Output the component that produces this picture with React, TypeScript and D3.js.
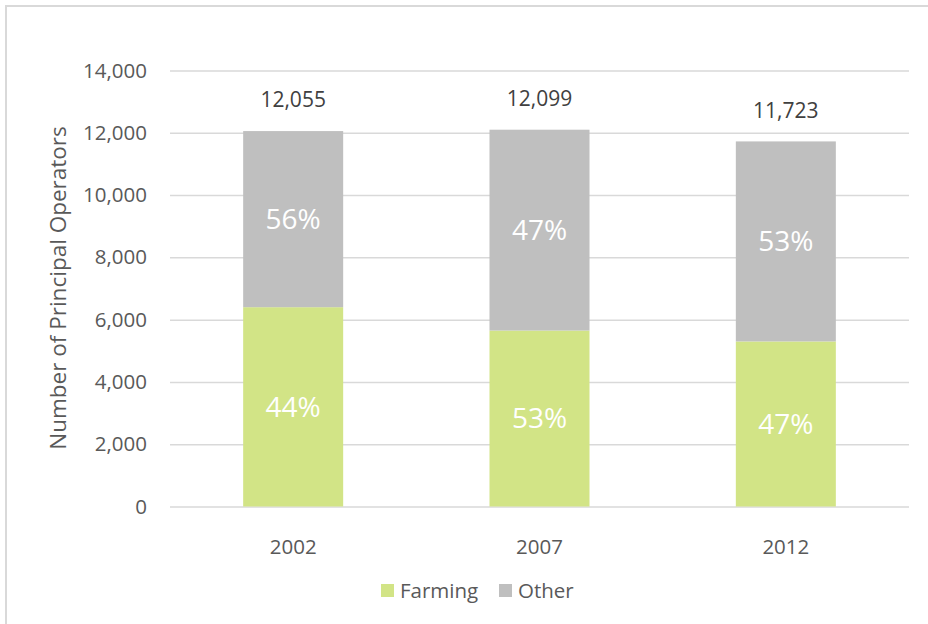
import * as d3 from "d3"
import React from "react"

const years = ["2002", "2007", "2012"]
const farming = [6400, 5650, 5300]
const totals = [12055, 12099, 11723]
const other = totals.map((t, i) => t - farming[i])
const farmingPct = ["44%", "53%", "47%"]
const otherPct = ["56%", "47%", "53%"]
const yTicks = [0, 2000, 4000, 6000, 8000, 10000, 12000, 14000]
const seriesNames = ["Farming", "Other"]
const seriesColors = ["#d2e486", "#bfbfbf"]

const width = 928
const height = 624
const font = "'Open Sans', sans-serif"

const App = () => {
  const ref = React.useRef<SVGSVGElement>(null)

  React.useEffect(() => {
    const svg = d3.select(ref.current)
    svg.selectAll("*").remove()

    // chart frame
    svg.append("rect")
      .attr("x", 6).attr("y", 6)
      .attr("width", width).attr("height", height)
      .attr("fill", "white")
      .attr("stroke", "#d9d9d9").attr("stroke-width", 2)

    const x = d3.scaleBand(years, [170, 909]).paddingInner(0.594).paddingOuter(0.297)
    const y = d3.scaleLinear([0, 14000], [506.5, 70.5])

    // gridlines + y labels
    const yAxis = d3.axisLeft(y).tickValues(yTicks).tickFormat(d3.format(","))
      .tickSize(0).tickPadding(23)
    svg.append("g")
      .attr("transform", "translate(170,0)")
      .call(yAxis)
      .call((g: any) => g.select(".domain").remove())
      .call((g: any) => g.selectAll(".tick line").clone()
        .attr("x2", 739)
        .attr("stroke", "#d9d9d9")
        .attr("stroke-width", 1.5))
      .call((g: any) => g.selectAll(".tick text")
        .attr("font-family", font).attr("font-size", 20.5).attr("fill", "#595959"))

    // stacked bars
    const stacked = [farming, other]
    stacked.forEach((vals, s) => {
      const base = s === 0 ? years.map(() => 0) : farming
      svg.append("g")
        .attr("fill", seriesColors[s])
        .selectAll("rect")
        .data(years)
        .join("rect")
        .attr("x", (d: string) => x(d)!)
        .attr("width", x.bandwidth())
        .attr("y", (d: string, i: number) => y(base[i] + vals[i]))
        .attr("height", (d: string, i: number) => y(base[i]) - y(base[i] + vals[i]))

      const pct = s === 0 ? farmingPct : otherPct
      svg.append("g")
        .selectAll("text")
        .data(years)
        .join("text")
        .attr("x", (d: string) => x(d)! + x.bandwidth() / 2)
        .attr("y", (d: string, i: number) => y(base[i] + vals[i] / 2))
        .attr("dy", "0.35em")
        .attr("text-anchor", "middle")
        .attr("font-family", font).attr("font-size", 28)
        .attr("fill", "white")
        .text((d: string, i: number) => pct[i])
    })

    // totals
    svg.append("g")
      .selectAll("text")
      .data(years)
      .join("text")
      .attr("x", (d: string) => x(d)! + x.bandwidth() / 2)
      .attr("y", (d: string, i: number) => y(totals[i]) - 31)
      .attr("dy", "0.35em")
      .attr("text-anchor", "middle")
      .attr("font-family", font).attr("font-size", 21)
      .attr("fill", "#404040")
      .text((d: string, i: number) => d3.format(",")(totals[i]))

    // x labels
    const xAxis = d3.axisBottom(x).tickSize(0).tickPadding(22)
    svg.append("g")
      .attr("transform", "translate(0,517)")
      .call(xAxis)
      .call((g: any) => g.select(".domain").remove())
      .call((g: any) => g.selectAll(".tick text")
        .attr("font-family", font).attr("font-size", 20.5).attr("fill", "#595959"))

    // axis title
    svg.append("text")
      .attr("transform", "translate(58,288) rotate(-90)")
      .attr("dy", "0.35em")
      .attr("text-anchor", "middle")
      .attr("font-family", font).attr("font-size", 22.5)
      .attr("fill", "#595959")
      .text("Number of Principal Operators")

    // legend
    const legendX = [381, 499]
    const legend = svg.append("g")
      .selectAll("g")
      .data(seriesNames)
      .join("g")
      .attr("transform", (d: string, i: number) => `translate(${legendX[i]},591)`)
    legend.append("rect")
      .attr("x", 0).attr("y", -7)
      .attr("width", 13).attr("height", 13)
      .attr("fill", (d: string, i: number) => seriesColors[i])
    legend.append("text")
      .attr("x", 19)
      .attr("dy", "0.35em")
      .attr("font-family", font).attr("font-size", 20.5)
      .attr("fill", "#595959")
      .text((d: string) => d)
  }, [])

  return (
    <svg ref={ref} width={width} height={height}
      style={{ position: "absolute", left: 0, top: 0, display: "block", background: "white" }} />
  )
}

export default App
